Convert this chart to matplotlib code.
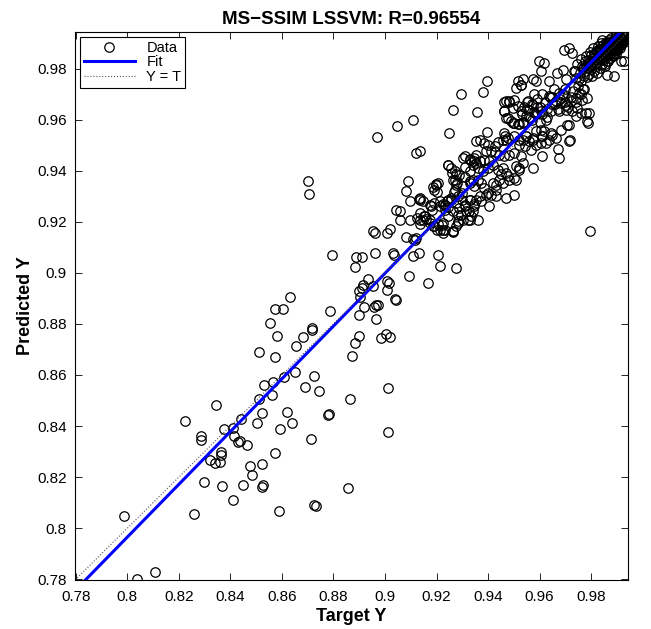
import numpy as np
import matplotlib
matplotlib.use("Agg")
import matplotlib.pyplot as plt
from matplotlib.ticker import FuncFormatter, MultipleLocator

plt.rcParams['font.family'] = ['Liberation Sans', 'DejaVu Sans']

# values (Target, Predicted)
low_target = [0.7987, 0.8107, 0.8039, 0.8260, 0.8299, 0.8367, 0.8411, 0.8450, 0.8477, 0.8483,
              0.8321, 0.8342, 0.8358, 0.8364, 0.8365, 0.8286, 0.8429, 0.8465, 0.8522, 0.8572,
              0.8714, 0.8225, 0.8344, 0.8374, 0.8411, 0.8415, 0.8438, 0.8441, 0.8285, 0.8505,
              0.8521, 0.8591, 0.8619, 0.8641, 0.8779, 0.8784, 0.8512, 0.8562, 0.8530, 0.8566,
              0.8608, 0.8651, 0.8689, 0.8724, 0.8745, 0.8512, 0.8572, 0.8579, 0.8656, 0.8683,
              0.8717, 0.8554, 0.8575, 0.8603, 0.8632, 0.8717, 0.8785, 0.8702, 0.8705, 0.8794,
              0.8866, 0.9012, 0.9012, 0.8856, 0.8725, 0.8732, 0.8589, 0.8523, 0.8527]
low_predicted = [0.8047, 0.7827, 0.7800, 0.8056, 0.8182, 0.8164, 0.8110, 0.8169, 0.8244, 0.8208,
                 0.8267, 0.8254, 0.8258, 0.8300, 0.8286, 0.8346, 0.8339, 0.8327, 0.8250, 0.8294,
                 0.8349, 0.8420, 0.8484, 0.8388, 0.8392, 0.8361, 0.8342, 0.8427, 0.8359, 0.8413,
                 0.8450, 0.8390, 0.8454, 0.8413, 0.8444, 0.8448, 0.8506, 0.8523, 0.8561, 0.8574,
                 0.8591, 0.8613, 0.8552, 0.8596, 0.8538, 0.8691, 0.8672, 0.8751, 0.8713, 0.8747,
                 0.8777, 0.8803, 0.8859, 0.8859, 0.8905, 0.8784, 0.8849, 0.9358, 0.9309, 0.9070,
                 0.8505, 0.8548, 0.8376, 0.8157, 0.8089, 0.8087, 0.8067, 0.8161, 0.8168]

mid_target = [0.8889, 0.8909, 0.8960, 0.9031, 0.9034, 0.9133, 0.8882, 0.9107, 0.9092, 0.9168,
              0.8934, 0.8915, 0.8909, 0.8900, 0.8902, 0.8954, 0.9007, 0.9017, 0.9008, 0.9040,
              0.8920, 0.8958, 0.8964, 0.8972, 0.8900, 0.8967, 0.9042, 0.8898, 0.8883, 0.9002,
              0.9018, 0.8986, 0.8873, 0.8968, 0.9045, 0.9110]
mid_predicted = [0.9062, 0.9062, 0.9078, 0.9078, 0.9071, 0.9078, 0.9023, 0.9064, 0.8986, 0.8962,
                 0.8976, 0.8951, 0.8940, 0.8927, 0.8907, 0.8947, 0.8966, 0.8962, 0.8934, 0.8898,
                 0.8866, 0.8866, 0.8875, 0.8875, 0.8833, 0.8819, 0.8894, 0.8751, 0.8727, 0.8761,
                 0.8747, 0.8744, 0.8675, 0.9533, 0.9573, 0.9600]

upper_target = [0.9119, 0.9207, 0.9214, 0.9276, 0.8954, 0.8963, 0.9008, 0.9018, 0.9083, 0.9109,
                0.9115, 0.9122, 0.9044, 0.9060, 0.9057, 0.9096, 0.9096, 0.9080, 0.9091, 0.9132,
                0.9137, 0.9124, 0.9137, 0.9150, 0.9160, 0.9147, 0.9180, 0.9184, 0.9134, 0.9173,
                0.9201, 0.9225, 0.9186, 0.9205, 0.9221, 0.9263, 0.9196, 0.9205, 0.9225, 0.9240,
                0.9257, 0.9231, 0.9244, 0.9231, 0.9244, 0.9261, 0.9276, 0.9270, 0.9280, 0.9266,
                0.9283, 0.9298, 0.9309, 0.9328, 0.9347, 0.9353, 0.9353, 0.9312, 0.9328, 0.9343,
                0.9300, 0.9312, 0.9328, 0.9347, 0.9325, 0.9341, 0.9354, 0.9283, 0.9296, 0.9328,
                0.9201, 0.9214, 0.9283, 0.9321, 0.9263, 0.9231]
upper_predicted = [0.9470, 0.9070, 0.9028, 0.9017, 0.9162, 0.9156, 0.9156, 0.9173, 0.9140, 0.9132,
                   0.9130, 0.9136, 0.9247, 0.9243, 0.9205, 0.9205, 0.9280, 0.9319, 0.9358, 0.9289,
                   0.9284, 0.9215, 0.9205, 0.9224, 0.9212, 0.9208, 0.9260, 0.9245, 0.9192, 0.9195,
                   0.9169, 0.9166, 0.9182, 0.9192, 0.9188, 0.9162, 0.9349, 0.9352, 0.9271, 0.9280,
                   0.9286, 0.9247, 0.9258, 0.9267, 0.9424, 0.9391, 0.9388, 0.9362, 0.9352, 0.9315,
                   0.9302, 0.9313, 0.9456, 0.9446, 0.9437, 0.9463, 0.9430, 0.9375, 0.9358, 0.9365,
                   0.9284, 0.9263, 0.9284, 0.9271, 0.9241, 0.9241, 0.9286, 0.9201, 0.9228, 0.9208,
                   0.9315, 0.9280, 0.9195, 0.9208, 0.9160, 0.9169]

band_target = [0.9296, 0.9382, 0.9396, 0.9263, 0.9358, 0.9248, 0.9396, 0.9134, 0.9353, 0.9370,
               0.9386, 0.9399, 0.9425, 0.9437, 0.9457, 0.9467, 0.9476, 0.9463, 0.9480, 0.9502,
               0.9508, 0.9528, 0.9463, 0.9476, 0.9489, 0.9502, 0.9519, 0.9534, 0.9547, 0.9560,
               0.9573, 0.9534, 0.9521, 0.9544, 0.9566, 0.9586, 0.9605, 0.9618, 0.9611, 0.9611,
               0.9575, 0.9392, 0.9412, 0.9425, 0.9444, 0.9463, 0.9483, 0.9502, 0.9302, 0.9328,
               0.9347, 0.9367, 0.9386, 0.9405, 0.9244, 0.9257, 0.9270, 0.9289, 0.9309, 0.9328,
               0.9341, 0.9360, 0.9379, 0.9399, 0.9418, 0.9437, 0.9457, 0.9470, 0.9450, 0.9476,
               0.9508, 0.9521, 0.9502, 0.9508, 0.9483, 0.9457, 0.9444, 0.9431, 0.9199, 0.9186,
               0.9192, 0.9263, 0.9276, 0.9270, 0.9302, 0.9328, 0.9347, 0.9360, 0.9373, 0.9386,
               0.9399, 0.9418, 0.9431, 0.9412, 0.9134, 0.9147, 0.9173, 0.9192, 0.9212, 0.9231,
               0.9244, 0.9257, 0.9276, 0.9289, 0.9309, 0.9328, 0.9347, 0.9367, 0.9373, 0.9392,
               0.9405, 0.9431, 0.9470, 0.9502, 0.9134, 0.9154, 0.9173, 0.9192, 0.9212, 0.9224,
               0.9244, 0.9263, 0.9283, 0.9302, 0.9276, 0.9315, 0.9334, 0.9263, 0.9224, 0.9360]
band_predicted = [0.9701, 0.9709, 0.9753, 0.9639, 0.9629, 0.9548, 0.9550, 0.9476, 0.9515, 0.9522,
                  0.9509, 0.9502, 0.9495, 0.9511, 0.9522, 0.9535, 0.9528, 0.9668, 0.9668, 0.9678,
                  0.9724, 0.9737, 0.9633, 0.9607, 0.9593, 0.9587, 0.9584, 0.9590, 0.9535, 0.9515,
                  0.9528, 0.9522, 0.9502, 0.9495, 0.9482, 0.9502, 0.9561, 0.9554, 0.9535, 0.9459,
                  0.9411, 0.9476, 0.9476, 0.9472, 0.9463, 0.9456, 0.9463, 0.9470, 0.9450, 0.9443,
                  0.9450, 0.9437, 0.9443, 0.9439, 0.9424, 0.9411, 0.9397, 0.9384, 0.9414, 0.9397,
                  0.9424, 0.9411, 0.9397, 0.9411, 0.9424, 0.9404, 0.9411, 0.9391, 0.9385, 0.9378,
                  0.9417, 0.9411, 0.9372, 0.9365, 0.9365, 0.9352, 0.9365, 0.9345, 0.9345, 0.9336,
                  0.9326, 0.9365, 0.9345, 0.9326, 0.9339, 0.9352, 0.9339, 0.9365, 0.9352, 0.9332,
                  0.9313, 0.9352, 0.9326, 0.9306, 0.9293, 0.9280, 0.9267, 0.9273, 0.9260, 0.9267,
                  0.9286, 0.9293, 0.9273, 0.9254, 0.9267, 0.9286, 0.9260, 0.9299, 0.9280, 0.9306,
                  0.9260, 0.9299, 0.9293, 0.9306, 0.9234, 0.9221, 0.9208, 0.9182, 0.9169, 0.9195,
                  0.9221, 0.9241, 0.9228, 0.9208, 0.9182, 0.9241, 0.9221, 0.9162, 0.9156, 0.9208]

high_target = [0.9695, 0.9715, 0.9727, 0.9596, 0.9618, 0.9605, 0.9573, 0.9586, 0.9534, 0.9528,
               0.9515, 0.9635, 0.9669, 0.9689, 0.9702, 0.9734, 0.9753, 0.9470, 0.9483, 0.9463,
               0.9470, 0.9496, 0.9515, 0.9528, 0.9496, 0.9515, 0.9534, 0.9547, 0.9560, 0.9553,
               0.9573, 0.9586, 0.9605, 0.9624, 0.9637, 0.9657, 0.9676, 0.9695, 0.9663, 0.9682,
               0.9702, 0.9721, 0.9740, 0.9753, 0.9773, 0.9766, 0.9785, 0.9644, 0.9676, 0.9702,
               0.9727, 0.9747, 0.9760, 0.9740, 0.9779, 0.9785, 0.9715, 0.9682, 0.9644, 0.9637,
               0.9663, 0.9611, 0.9573, 0.9586, 0.9547, 0.9521, 0.9502, 0.9470, 0.9463, 0.9715,
               0.9792, 0.9708, 0.9789, 0.9717, 0.9673, 0.9676, 0.9795, 0.9650, 0.9605, 0.9624,
               0.9528, 0.9521, 0.9534, 0.9915, 0.9889, 0.9863, 0.9927]
high_predicted = [0.9874, 0.9881, 0.9862, 0.9829, 0.9822, 0.9789, 0.9760, 0.9750, 0.9757, 0.9737,
                  0.9750, 0.9750, 0.9783, 0.9796, 0.9757, 0.9789, 0.9757, 0.9672, 0.9672, 0.9633,
                  0.9607, 0.9646, 0.9652, 0.9633, 0.9587, 0.9581, 0.9587, 0.9613, 0.9639, 0.9672,
                  0.9659, 0.9620, 0.9633, 0.9600, 0.9691, 0.9718, 0.9705, 0.9691, 0.9672, 0.9665,
                  0.9659, 0.9672, 0.9685, 0.9705, 0.9718, 0.9678, 0.9685, 0.9633, 0.9633, 0.9639,
                  0.9633, 0.9646, 0.9626, 0.9613, 0.9626, 0.9593, 0.9580, 0.9561, 0.9548, 0.9522,
                  0.9528, 0.9535, 0.9522, 0.9554, 0.9535, 0.9522, 0.9535, 0.9522, 0.9548, 0.9515,
                  0.9626, 0.9580, 0.9587, 0.9522, 0.9485, 0.9450, 0.9162, 0.9541, 0.9509, 0.9509,
                  0.9456, 0.9404, 0.9430, 0.9829, 0.9770, 0.9776, 0.9829]

cluster_target = [0.953, 0.955, 0.956, 0.957, 0.958, 0.959, 0.960, 0.961, 0.962, 0.963,
                  0.964, 0.955, 0.958, 0.961, 0.957, 0.960, 0.963, 0.965, 0.954, 0.959,
                  0.966, 0.968, 0.970, 0.972, 0.969, 0.967, 0.971, 0.974, 0.973, 0.976,
                  0.975, 0.977, 0.965, 0.970,
                  0.9742, 0.9738, 0.9745, 0.9761, 0.9757, 0.9764, 0.9759, 0.9772, 0.9768, 0.9775,
                  0.9783, 0.9779, 0.9786, 0.9781, 0.9791, 0.9794, 0.9788, 0.9796, 0.9803, 0.9799,
                  0.9806, 0.9801, 0.9808, 0.9812, 0.9815, 0.9809, 0.9817, 0.9823, 0.9819, 0.9826,
                  0.9821, 0.9828, 0.9833, 0.9829, 0.9836, 0.9831, 0.9838, 0.9842, 0.9845, 0.9839,
                  0.9847, 0.9843, 0.9852, 0.9848, 0.9855, 0.9851, 0.9858, 0.9862, 0.9859, 0.9865,
                  0.9861, 0.9868, 0.9872, 0.9869, 0.9875, 0.9871, 0.9878, 0.9882, 0.9885, 0.9879,
                  0.9887, 0.9892, 0.9889, 0.9895, 0.9891, 0.9898, 0.9902, 0.9899, 0.9905, 0.9908,
                  0.9911, 0.9906, 0.9914, 0.9918, 0.9915, 0.9921, 0.9924, 0.9927, 0.9922, 0.9931,
                  0.9928, 0.9933, 0.9896, 0.9884, 0.9866, 0.9853]
cluster_predicted = [0.962, 0.964, 0.961, 0.966, 0.963, 0.968, 0.965, 0.962, 0.967, 0.964,
                     0.969, 0.967, 0.970, 0.970, 0.960, 0.959, 0.961, 0.966, 0.965, 0.965,
                     0.966, 0.968, 0.967, 0.969, 0.970, 0.964, 0.965, 0.967, 0.971, 0.970,
                     0.973, 0.972, 0.969, 0.972,
                     0.9762, 0.9791, 0.9818, 0.9752, 0.9783, 0.9809, 0.9838, 0.9771, 0.9801, 0.9829,
                     0.9765, 0.9792, 0.9821, 0.9848, 0.9779, 0.9808, 0.9835, 0.9866, 0.9771, 0.9799,
                     0.9827, 0.9853, 0.9879, 0.9789, 0.9816, 0.9843, 0.9868, 0.9781, 0.9809, 0.9836,
                     0.9862, 0.9889, 0.9802, 0.9829, 0.9851, 0.9876, 0.9899, 0.9819, 0.9846, 0.9871,
                     0.9893, 0.9912, 0.9811, 0.9838, 0.9861, 0.9883, 0.9903, 0.9828, 0.9853, 0.9874,
                     0.9895, 0.9913, 0.9841, 0.9866, 0.9886, 0.9905, 0.9921, 0.9852, 0.9875, 0.9894,
                     0.9912, 0.9861, 0.9884, 0.9902, 0.9919, 0.9931, 0.9872, 0.9893, 0.9911, 0.9926,
                     0.9882, 0.9901, 0.9918, 0.9933, 0.9893, 0.9912, 0.9928, 0.9902, 0.9921, 0.9935,
                     0.9911, 0.9928, 0.9856, 0.9848, 0.9831, 0.9817]

# extra points filling the solid black blob near the top-right corner
blob_target = [0.9812, 0.9824, 0.9836, 0.9849, 0.9857, 0.9864, 0.9873, 0.9881, 0.9886, 0.9893,
               0.9901, 0.9907, 0.9913, 0.9919, 0.9926, 0.9832, 0.9846, 0.9853, 0.9867, 0.9876,
               0.9884, 0.9897, 0.9904, 0.9916, 0.9925, 0.9795, 0.9804, 0.9818, 0.9827, 0.9841,
               0.9856, 0.9863, 0.9874, 0.9888, 0.9899, 0.9909, 0.9917, 0.9768, 0.9782, 0.9790]
blob_predicted = [0.9857, 0.9866, 0.9874, 0.9881, 0.9893, 0.9884, 0.9897, 0.9889, 0.9908, 0.9902,
                  0.9915, 0.9897, 0.9925, 0.9906, 0.9917, 0.9842, 0.9858, 0.9872, 0.9861, 0.9878,
                  0.9871, 0.9889, 0.9882, 0.9895, 0.9908, 0.9812, 0.9824, 0.9837, 0.9849, 0.9832,
                  0.9844, 0.9901, 0.9856, 0.9868, 0.9877, 0.9888, 0.9899, 0.9797, 0.9806, 0.9821]

fit_slope = 1.033
fit_intercept = -0.0299
axis_lim = (0.7797, 0.9943)

target = np.array(low_target + mid_target + upper_target + band_target + high_target
                  + cluster_target + blob_target)
predicted = np.array(low_predicted + mid_predicted + upper_predicted + band_predicted
                     + high_predicted + cluster_predicted + blob_predicted)

fig = plt.figure(figsize=(6.51, 6.29), dpi=100)
ax = fig.add_axes([75 / 651, 1 - 580 / 629, 553 / 651, 548 / 629])

ax.plot(target, predicted, 'o', mfc='none', mec='black', ms=6.8, mew=0.9, label='Data')
xs = np.array(axis_lim)
ax.plot(xs, fit_slope * xs + fit_intercept, color='blue', lw=2.2, label='Fit')
ax.plot(xs, xs, ':', color='#555555', lw=0.8, label='Y = T')

ax.set_xlim(axis_lim)
ax.set_ylim(axis_lim)
ax.xaxis.set_major_locator(MultipleLocator(0.02))
ax.yaxis.set_major_locator(MultipleLocator(0.02))
fmt = FuncFormatter(lambda v, p: '%g' % round(v, 2))
ax.xaxis.set_major_formatter(fmt)
ax.yaxis.set_major_formatter(fmt)
ax.tick_params(direction='in', length=5, width=0.6, top=True, right=True, labelsize=11)
ax.tick_params(axis='x', pad=7)
ax.tick_params(axis='y', pad=6)
for s in ax.spines.values():
    s.set_linewidth(0.8)

ax.set_title('MS\u2212SSIM LSSVM: R=0.96554', fontsize=13.5, fontweight='bold', pad=6)
ax.set_xlabel('Target Y', fontsize=13, fontweight='bold', labelpad=3)
ax.set_ylabel('Predicted Y', fontsize=13, fontweight='bold', labelpad=2)

leg = ax.legend(loc='upper left', fontsize=10.5, handlelength=3.5, fancybox=False,
                edgecolor='black', framealpha=1, borderpad=0.25, labelspacing=0.05,
                borderaxespad=0.35, handletextpad=0.8)
leg.get_frame().set_linewidth(0.8)

fig.savefig('out.png', dpi=100)
